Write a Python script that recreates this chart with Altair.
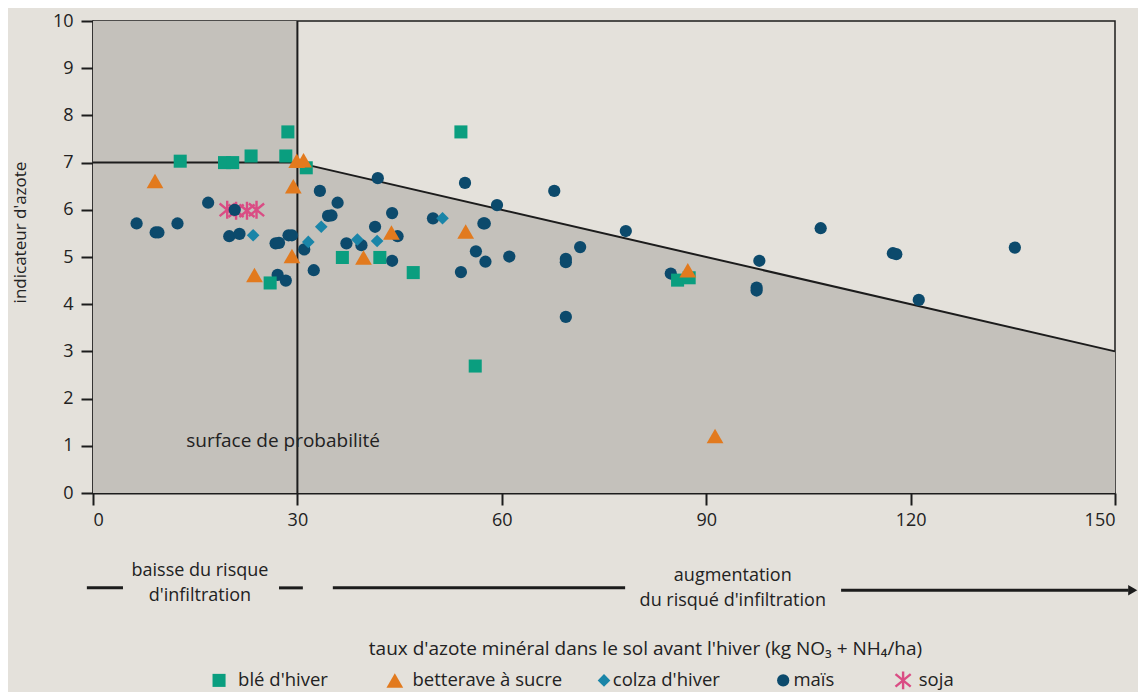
import altair as alt
import pandas as pd

# ---------------- data ----------------
crops = ["blé d'hiver", "betterave à sucre", "colza d'hiver", "maïs", "soja"]
crop_colors = ["#0A9E7F", "#E27A1E", "#1A85A8", "#0C4A6C", "#DA4C84"]

ble_x = [12.8, 19.3, 20.5, 23.2, 28.3, 28.6, 31.3, 26.0, 36.6, 42.1, 47.0, 54.0, 56.1, 85.8, 87.5]
ble_y = [7.03, 7.0, 7.0, 7.14, 7.14, 7.65, 6.89, 4.45, 4.99, 4.99, 4.67, 7.65, 2.69, 4.51, 4.56]

bett_x = [9.1, 29.9, 30.9, 29.4, 29.2, 23.7, 43.8, 39.7, 54.7, 87.3, 91.3]
bett_y = [6.61, 7.04, 7.05, 6.50, 5.02, 4.62, 5.52, 4.99, 5.54, 4.72, 1.21]

colza_x = [23.5, 31.6, 33.5, 38.8, 41.7, 51.3]
colza_y = [5.46, 5.32, 5.64, 5.37, 5.34, 5.82]

mais_x = [6.4, 9.2, 9.6, 12.4, 16.9, 20.8, 20.0, 21.5, 26.8, 27.3, 28.7, 29.2, 27.1, 28.3,
          31.0, 32.4, 33.3, 35.9, 34.5, 35.0, 41.8, 43.9, 41.4, 37.2, 39.4, 44.7, 43.9, 49.9,
          54.6, 59.3, 57.3, 57.5, 56.2, 57.6, 54.0, 61.1, 67.7, 78.2, 71.5, 69.4, 69.4, 69.4,
          84.8, 97.8, 97.4, 97.4, 106.8, 117.4, 117.9, 121.2, 135.3]
mais_y = [5.71, 5.52, 5.52, 5.71, 6.15, 6.0, 5.44, 5.49, 5.29, 5.30, 5.46, 5.46, 4.62, 4.50,
          5.16, 4.72, 6.40, 6.15, 5.87, 5.88, 6.67, 5.93, 5.64, 5.29, 5.25, 5.44, 4.92, 5.82,
          6.57, 6.10, 5.71, 5.71, 5.12, 4.90, 4.68, 5.01, 6.40, 5.55, 5.21, 4.96, 4.89, 3.73,
          4.65, 4.92, 4.35, 4.29, 5.61, 5.08, 5.06, 4.09, 5.20]

soja_x = [19.7, 21.0, 22.6, 24.0]
soja_y = [6.0, 5.98, 5.98, 6.0]

# probability surface boundary: (0,10)-(30,10)-(30,7)-(150,3)
zone_x = [0, 30, 150]
zone_y = [10, 7, 3]

x_ticks = [0, 30, 60, 90, 120, 150]
y_ticks = list(range(0, 11))

# annotation texts (data coordinates; negative y = below the x axis)
note_text = ["baisse du risque", "d'infiltration", "augmentation", "du risqué d'infiltration"]
note_x = [15.7, 15.7, 93.9, 93.9]
note_y = [-1.66, -2.19, -1.76, -2.29]

surface_text = ["surface de probabilité"]
surface_x = [27.9]
surface_y = [1.1]

seg_x1 = [-0.9, 27.3, 35.2, 109.8]
seg_x2 = [4.4, 30.8, 78.1, 152.0]
seg_y = [-2.01, -2.01, -2.01, -2.06]
arrow_x = [152.6]
arrow_y = [-2.06]

# legend row below the chart
legend_sym_x = [18.5, 44.3, 75.0, 101.3, 118.9]
legend_lab_x = [21.3, 46.9, 76.3, 102.8, 121.2]
legend_y = -3.97

# ---------------- build ----------------
FONT = "Open Sans"
BG = "#E4E1DB"
SHADE = "#C4C1BB"
INK = "#1c1c1c"

xs = alt.Scale(domain=[0, 150], nice=False, zero=False)
ys = alt.Scale(domain=[0, 10], nice=False, zero=False)

asterisk = "M0,-1L0,1M-0.85,-0.7L0.85,0.7M-0.85,0.7L0.85,-0.7"
shapes = ["square", "triangle-up", "diamond", "circle", asterisk]
sizes = [170, 280, 160, 150, 320]


def X():
    return alt.X("x:Q", scale=xs)


def Y():
    return alt.Y("y:Q", scale=ys)


rect_df = pd.DataFrame({"x": [zone_x[0]], "x2": [zone_x[1]], "y": [0], "y2": [zone_y[0]]})
rect = alt.Chart(rect_df).mark_rect(color=SHADE).encode(
    x=alt.X("x:Q", scale=xs,
            axis=alt.Axis(values=x_ticks,
                          title="taux d'azote minéral dans le sol avant l'hiver (kg NO₃ + NH₄/ha)",
                          titleX=552, titleY=155, titleBaseline="middle", titleAlign="center",
                          titleFontSize=19)),
    x2="x2:Q",
    y=alt.Y("y:Q", scale=ys,
            axis=alt.Axis(values=y_ticks, title="indicateur d'azote", titleX=-73, titleY=211,
                          titleAngle=-90, titleBaseline="middle", titleAlign="center")),
    y2="y2:Q",
)

area_df = pd.DataFrame({"x": zone_x[1:], "y": zone_y[1:], "y0": [0, 0]})
area = alt.Chart(area_df).mark_area(color=SHADE, opacity=1).encode(x=X(), y=Y(), y2="y0:Q")

hline_df = pd.DataFrame({"x": [zone_x[0]], "x2": [zone_x[1]], "y": [zone_y[1]]})
hline = alt.Chart(hline_df).mark_rule(color=INK, strokeWidth=2).encode(x=X(), x2="x2:Q", y=Y())

vline_df = pd.DataFrame({"x": [zone_x[1]], "y": [0], "y2": [zone_y[0]]})
vline = alt.Chart(vline_df).mark_rule(color=INK, strokeWidth=2).encode(x=X(), y=Y(), y2="y2:Q")

diag_df = pd.DataFrame({"x": zone_x[1:], "y": zone_y[1:]})
diag = alt.Chart(diag_df).mark_line(color=INK, strokeWidth=2).encode(x=X(), y=Y())


def crop_layer(i, xv, yv):
    df = pd.DataFrame({"x": xv, "y": yv, "crop": crops[i]})
    if crops[i] == "soja":
        mk = alt.Chart(df).mark_point(shape=shapes[i], size=sizes[i], filled=False,
                                      color=crop_colors[i], strokeWidth=2.4, opacity=1)
    else:
        mk = alt.Chart(df).mark_point(shape=shapes[i], size=sizes[i], filled=True,
                                      color=crop_colors[i], opacity=1)
    return mk.encode(x=X(), y=Y(), tooltip="crop:N")


layer_soja = crop_layer(4, soja_x, soja_y)
layer_mais = crop_layer(3, mais_x, mais_y)
layer_colza = crop_layer(2, colza_x, colza_y)
layer_ble = crop_layer(0, ble_x, ble_y)
layer_bett = crop_layer(1, bett_x, bett_y)

# legend: symbols + labels
leg_layers = []
for i in range(len(crops)):
    leg_layers.append(crop_layer(i, [legend_sym_x[i]], [legend_y]))
leg_lab_df = pd.DataFrame({"t": crops, "x": legend_lab_x, "y": [legend_y] * len(crops)})
leg_labels = alt.Chart(leg_lab_df).mark_text(font=FONT, color="#222", align="left",
                                             baseline="middle", fontSize=18.5).encode(
    x=X(), y=Y(), text="t:N")

notes_df = pd.DataFrame({"t": note_text, "x": note_x, "y": note_y})
notes = alt.Chart(notes_df).mark_text(font=FONT, color="#222", align="center", baseline="middle",
                                      fontSize=18).encode(x=X(), y=Y(), text="t:N")

surf_df = pd.DataFrame({"t": surface_text, "x": surface_x, "y": surface_y})
surf = alt.Chart(surf_df).mark_text(font=FONT, color="#222", align="center", baseline="middle",
                                    fontSize=19).encode(x=X(), y=Y(), text="t:N")

seg_df = pd.DataFrame({"x": seg_x1, "x2": seg_x2, "y": seg_y})
segs = alt.Chart(seg_df).mark_rule(color=INK, strokeWidth=3).encode(x=X(), x2="x2:Q", y=Y())

arr_df = pd.DataFrame({"x": arrow_x, "y": arrow_y})
arrow = alt.Chart(arr_df).mark_point(shape="triangle-right", filled=True, color=INK, size=110,
                                     opacity=1).encode(x=X(), y=Y())

chart = alt.layer(rect, area, hline, vline, diag,
                  layer_soja, layer_mais, layer_colza, layer_ble, layer_bett,
                  surf, notes, segs, arrow, *leg_layers, leg_labels).properties(
    width=1022, height=472,
    autosize=alt.AutoSizeParams(type="none"),
    padding={"left": 85, "top": 13, "right": 23, "bottom": 199},
    background=BG,
).configure_view(
    stroke=INK, strokeWidth=1.5, fill=BG
).configure_axis(
    grid=False, domainColor=INK, domainWidth=2, tickColor=INK, tickWidth=2, tickSize=12,
    labelFont=FONT, labelFontSize=18, labelColor="#222", labelPadding=6,
    titleFont=FONT, titleFontSize=17, titleColor="#222", titleFontWeight="normal",
).configure_axisY(
    labelPadding=8,
)

chart.save("out.html", embed_options={"renderer": "svg", "actions": False})
